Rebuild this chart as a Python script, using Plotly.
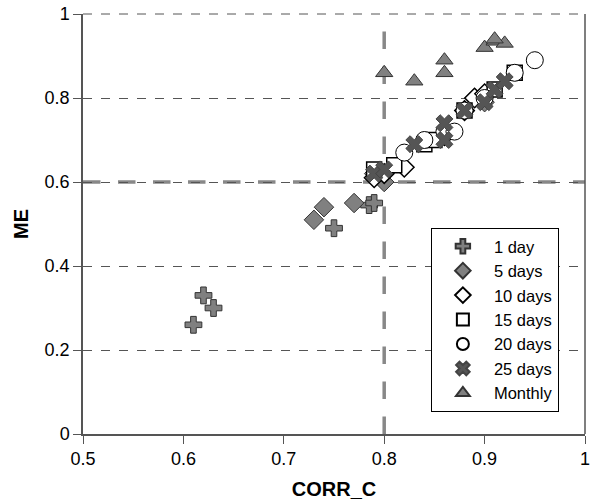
import plotly.graph_objects as go

# ---- data ----
day1_x = [0.61, 0.62, 0.63, 0.75, 0.785, 0.79]
day1_y = [0.26, 0.33, 0.30, 0.49, 0.545, 0.55]

day5_x = [0.73, 0.74, 0.77, 0.79, 0.80, 0.86, 0.88, 0.89, 0.90]
day5_y = [0.51, 0.54, 0.55, 0.62, 0.60, 0.71, 0.77, 0.80, 0.79]

day10_x = [0.79, 0.80, 0.82, 0.86, 0.88, 0.89, 0.90]
day10_y = [0.61, 0.62, 0.635, 0.71, 0.77, 0.80, 0.81]

day15_x = [0.79, 0.81, 0.84, 0.85, 0.88, 0.91, 0.93]
day15_y = [0.63, 0.64, 0.69, 0.70, 0.77, 0.82, 0.86]

day20_x = [0.82, 0.84, 0.86, 0.87, 0.88, 0.90, 0.93, 0.95]
day20_y = [0.67, 0.70, 0.72, 0.72, 0.77, 0.80, 0.86, 0.89]

day25_x = [0.79, 0.80, 0.83, 0.86, 0.86, 0.88, 0.90, 0.91, 0.92]
day25_y = [0.62, 0.63, 0.69, 0.74, 0.70, 0.77, 0.79, 0.82, 0.84]

month_x = [0.80, 0.83, 0.86, 0.86, 0.90, 0.91, 0.92, 0.91]
month_y = [0.86, 0.84, 0.86, 0.89, 0.92, 0.935, 0.93, 0.94]

x_ticks = [0.5, 0.6, 0.7, 0.8, 0.9, 1.0]
x_labels = ["0.5", "0.6", "0.7", "0.8", "0.9", "1"]
y_ticks = [0, 0.2, 0.4, 0.6, 0.8, 1.0]
y_labels = ["0", "0.2", "0.4", "0.6", "0.8", "1"]

fig = go.Figure()

def add(name, xs, ys, symbol, fill, line_col, size, lw=1):
    fig.add_trace(go.Scatter(
        x=xs, y=ys, mode="markers", name=name,
        marker=dict(symbol=symbol, size=size, color=fill,
                    line=dict(color=line_col, width=lw))))

add("1 day", day1_x, day1_y, "cross", "#808080", "#333333", 14)
add("5 days", day5_x, day5_y, "diamond", "#808080", "#333333", 15)
add("10 days", day10_x, day10_y, "diamond", "white", "black", 15, 1.5)
add("15 days", day15_x, day15_y, "square", "white", "black", 15, 1.5)
add("20 days", day20_x, day20_y, "circle", "white", "black", 17, 1)
add("25 days", day25_x, day25_y, "x", "#555555", "#444444", 15, 1)
add("Monthly", month_x, month_y, "triangle-up", "#808080", "#333333", 15)

# inside half of the crossing y ticks (overlay axis, no labels)
fig.add_trace(go.Scatter(x=[None], y=[None], xaxis="x", yaxis="y2",
                         showlegend=False, hoverinfo="skip"))

# bold dashed reference lines
fig.add_shape(type="line", xref="x", yref="y", x0=0.5, x1=1.0, y0=0.6, y1=0.6,
              line=dict(color="#888888", width=3.5, dash="longdash"), layer="below")
fig.add_shape(type="line", xref="x", yref="y", x0=0.8, x1=0.8, y0=0, y1=1,
              line=dict(color="#888888", width=3.5, dash="longdash"), layer="below")
# top dashed gridline and right border
fig.add_shape(type="line", xref="paper", yref="paper", x0=0, x1=1, y0=1, y1=1,
              line=dict(color="#555555", width=1, dash="dash"), layer="below")
fig.add_shape(type="line", xref="paper", yref="paper", x0=1, x1=1, y0=0, y1=1,
              line=dict(color="#555555", width=1.5))

fig.update_layout(
    width=590, height=502,
    margin=dict(l=83, r=5, t=14, b=68),
    plot_bgcolor="white", paper_bgcolor="white",
    font=dict(family="Liberation Sans, Arial, sans-serif", size=18, color="black"),
    showlegend=True,
    legend=dict(x=0.693, y=0.4905, xanchor="left", yanchor="top",
                bgcolor="white", bordercolor="black", borderwidth=1,
                font=dict(size=16.5), tracegroupgap=0, itemsizing="constant",
                itemwidth=52),
    xaxis=dict(range=[0.5, 1.0], tickvals=x_ticks, ticktext=x_labels,
               showgrid=False, zeroline=False, showline=True,
               linecolor="#555555", linewidth=1.5, ticks="outside",
               ticklen=8, tickcolor="#555555", automargin=False,
               ticklabeloverflow="allow", tickfont=dict(size=18),
               title=dict(text="<b>CORR_C</b>", font=dict(size=20), standoff=14)),
    yaxis=dict(range=[0, 1.0], tickvals=y_ticks, ticktext=y_labels,
               showgrid=True, gridcolor="#555555", gridwidth=1, griddash="dash",
               zeroline=False, showline=True,
               linecolor="#555555", linewidth=1.5, ticks="outside",
               ticklen=8, tickcolor="#555555", automargin=False,
               ticklabeloverflow="allow", tickfont=dict(size=18),
               title=dict(text="<b>ME</b>", font=dict(size=20), standoff=11)),
    yaxis2=dict(range=[0, 1.0], tickvals=y_ticks, overlaying="y", side="left",
                showticklabels=False, showgrid=False, zeroline=False,
                showline=False, ticks="inside", ticklen=8, tickcolor="#555555"),
)

fig.write_html(
    "out.html",
    config={"displayModeBar": False},
    post_script="document.body.style.margin='0';document.body.style.overflow='hidden';",
)
